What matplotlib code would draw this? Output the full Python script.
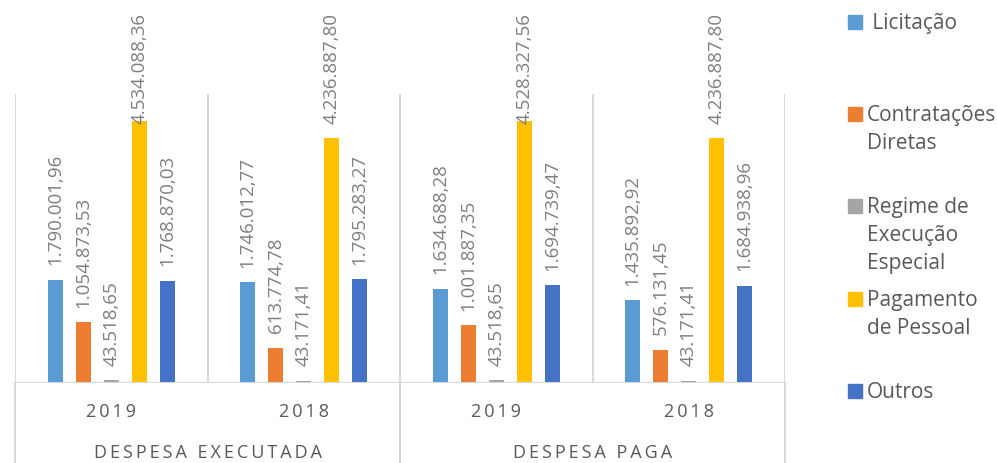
import numpy as np
import matplotlib
matplotlib.use("Agg")
import matplotlib.pyplot as plt
from matplotlib.patches import Rectangle

plt.rcParams['font.family'] = ['Open Sans', 'DejaVu Sans']

# data
series = ['Licitação', 'Contratações\nDiretas', 'Regime de\nExecução\nEspecial',
          'Pagamento\nde Pessoal', 'Outros']
years = ['2019', '2018', '2019', '2018']
groups = ['DESPESA EXECUTADA', 'DESPESA PAGA']
licitacao = [1790001.96, 1746012.77, 1634688.28, 1435892.92]
contratacoes = [1054873.53, 613774.78, 1001887.35, 576131.45]
regime = [43518.65, 43171.41, 43518.65, 43171.41]
pagamento = [4534088.36, 4236887.80, 4528327.56, 4236887.80]
outros = [1768870.03, 1795283.27, 1694739.47, 1684938.96]
values = [licitacao, contratacoes, regime, pagamento, outros]
colors = ['#5B9BD5', '#ED7D31', '#A5A5A5', '#FFC000', '#4472C4']


def fmt(v):
    # brazilian number format 1.234.567,89
    s = f"{v:,.2f}"
    return s.replace(',', 'X').replace('.', ',').replace('X', '.')


def spaced(s):
    return '\u2009'.join(s)


W, H = 997, 464
fig = plt.figure(figsize=(W / 100, H / 100), dpi=100)
ax = fig.add_axes([15 / W, 80 / H, 770 / W, 289 / H])

x = np.arange(len(years))
pitch = 0.1455
width = 0.078
anns = []
for i, (vals, c) in enumerate(zip(values, colors)):
    xs = x + (i - 2) * pitch
    ax.bar(xs, vals, width=width, color=c, zorder=3)
    for xi, v in zip(xs, vals):
        a = ax.annotate(fmt(v), (xi, v), xytext=(0, 11), textcoords='offset points',
                        rotation=90, ha='center', va='bottom', fontsize=13.5,
                        color='#7F7F7F', annotation_clip=False)
        anns.append(a)

ax.set_xlim(-0.5, len(years) - 0.5)
ax.set_ylim(0, 5000000)
ax.axis('off')

grid = '#D9D9D9'
for xv in [-0.5, 0.5, 1.5, 2.5, 3.5]:
    ax.axvline(xv, color=grid, lw=1.5, zorder=1)
for xv in [-0.5, 1.5, 3.5]:
    ax.plot([xv, xv], [0, -80 / 289], transform=ax.get_xaxis_transform(),
            color=grid, lw=1.5, clip_on=False)
ax.axhline(0, color=grid, lw=1.5, zorder=4)

for xi, yr in zip(x, years):
    ax.text(xi, -0.097, spaced(yr), transform=ax.get_xaxis_transform(),
            ha='center', va='center', fontsize=13, color='#595959')
for gi, g in enumerate(groups):
    ax.text(gi * 2 + 0.5, -0.239, spaced(g), transform=ax.get_xaxis_transform(),
            ha='center', va='center', fontsize=13, color='#595959')

# keep the tall labels inside the picture
fig.canvas.draw()
r = fig.canvas.get_renderer()
limit = H - 13
for a in anns:
    ext = a.get_window_extent(r)
    if ext.y1 > limit:
        dy = (ext.y1 - limit) * 72 / 100
        a.xyann = (0, 11 - dy)

# legend on the right
tops = [23, 115, 207, 300, 392]
for lab, c, yc in zip(series, colors, tops):
    fig.patches.append(Rectangle((848 / W, 1 - (yc + 7) / H), 14 / W, 14 / H,
                                 transform=fig.transFigure, color=c))
    name = (' ' + lab) if lab == 'Licitação' else lab
    fig.text(867 / W, 1 - (yc - 10) / H, name, ha='left', va='top', fontsize=15,
             color='#595959', linespacing=1.45,
             transform=fig.transFigure)

fig.savefig('out.png', dpi=100)
